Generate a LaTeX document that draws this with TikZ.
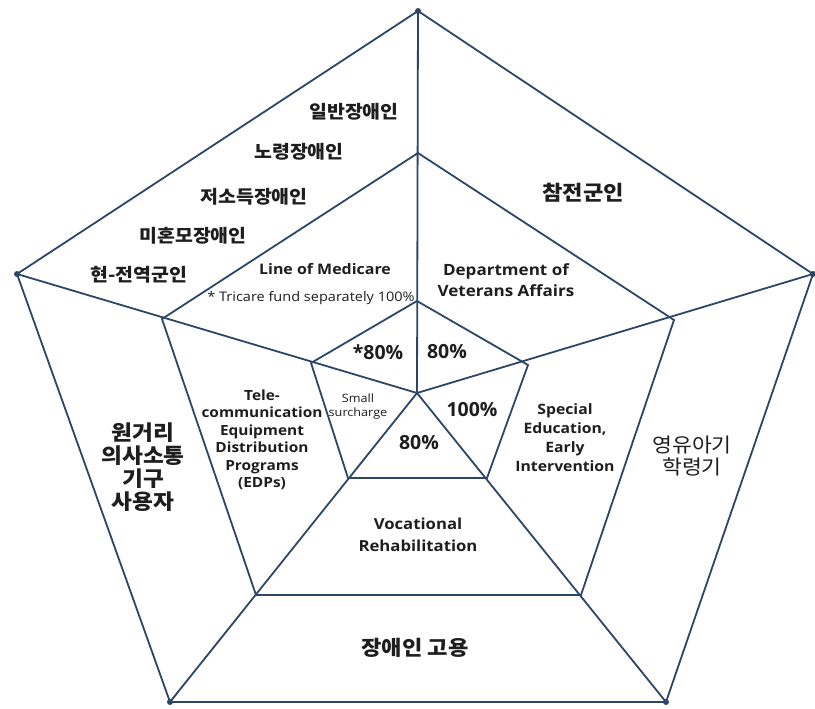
\documentclass[tikz,border=0pt]{standalone}
\usepackage{fontspec}
\newfontfamily\kr[FakeStretch=1.08]{Noto Sans CJK KR}
\newfontfamily\en[FakeStretch=1.1]{Open Sans}
\newfontfamily\enp{Open Sans}
\definecolor{lc}{RGB}{45,70,102}
\definecolor{tc}{RGB}{30,30,30}
\begin{document}
\begin{tikzpicture}[x=1pt,y=-1pt,
  edge/.style={draw=lc,line width=1.8pt},
  dotv/.style={fill=lc,draw=none},
  krl/.style={text=tc,font=\kr\bfseries\fontsize{18}{20}\selectfont,inner sep=0pt},
  enl/.style={text=tc,font=\en\bfseries\fontsize{12.5}{17.5}\selectfont,inner sep=0pt,align=center},
  pct/.style={text=tc,font=\enp\bfseries\fontsize{19.5}{21}\selectfont,inner sep=0pt}]
\useasboundingbox[fill=white] (0,0) rectangle (815,709);
% center and vertices
\coordinate (c) at (417,393);
\coordinate (o1) at (418,11);
\coordinate (o2) at (813,274);
\coordinate (o3) at (666,702);
\coordinate (o4) at (170,702);
\coordinate (o5) at (17,274);
\coordinate (m1) at (418,153);
\coordinate (m2) at (674,320);
\coordinate (m3) at (581,595);
\coordinate (m4) at (256,595);
\coordinate (m5) at (162,319);
\coordinate (i1) at (417,301);
\coordinate (i2) at (528,365);
\coordinate (i3) at (487,478);
\coordinate (i4) at (348,478);
\coordinate (i5) at (311,363);
% spokes
\foreach \v in {o1,o2,o3,o4,o5} \draw[edge] (c) -- (\v);
% pentagons
\draw[edge] (o1) -- (o2) -- (o3) -- (o4) -- (o5) -- cycle;
\draw[edge] (m1) -- (m2) -- (m3) -- (m4) -- (m5) -- cycle;
\draw[edge] (i1) -- (i2) -- (i3) -- (i4) -- (i5) -- cycle;
\foreach \v in {o1,o2,o3,o4,o5} \fill[dotv] (\v) circle (3);
% outer ring labels
\node[krl] (k1) at (354,112) {일반장애인};
\node[krl] (k2) at (299,152) {노령장애인};
\node[krl] (k3) at (254,197) {저소득장애인};
\node[krl] (k4) at (193,236) {미혼모장애인};
\node[krl] (k5) at (139,275) {현-전역군인};
\node[krl,font=\kr\bfseries\fontsize{20.5}{22}\selectfont] (k6) at (583,193) {참전군인};
\node[krl,font=\kr\bfseries\fontsize{21}{23}\selectfont,align=center] (k7) at (143,467) {원거리\\의사소통\\기구\\사용자};
\node[krl,font=\kr\fontsize{20}{22}\selectfont,align=center] (k8) at (692,456) {영유아기\\학령기};
\node[krl,font=\kr\bfseries\fontsize{20.5}{22}\selectfont] (k9) at (415,648) {장애인 고용};
% middle ring labels
\node[enl,font=\en\bfseries\fontsize{14.5}{17}\selectfont] (e1) at (325,269) {Line of Medicare};
\node[enl,font=\en\fontsize{13.2}{15}\selectfont] (e2) at (311,298) {* Tricare fund separately 100\%};
\node[enl,font=\en\bfseries\fontsize{15.5}{21}\selectfont] (e3) at (506,280) {Department of\\Veterans Affairs};
\node[enl,font=\en\bfseries\fontsize{14}{17.5}\selectfont] (e4) at (262,440) {Tele-\\communication\\Equipment\\Distribution\\Programs\\(EDPs)};
\node[enl,font=\en\bfseries\fontsize{14.3}{19}\selectfont] (e5) at (565,438) {Special\\Education,\\Early\\Intervention};
\node[enl,font=\en\bfseries\fontsize{15.2}{22}\selectfont] (e6) at (418,535) {Vocational\\Rehabilitation};
% inner labels
\node[pct] (p1) at (378,352) {*80\%};
\node[pct] (p2) at (447,352) {80\%};
\node[pct] (p3) at (472,410) {100\%};
\node[pct] (p4) at (419,443) {80\%};
\node[enl,font=\en\fontsize{11.5}{14}\selectfont] (p5) at (358,407) {Small\\surcharge};
\end{tikzpicture}
\end{document}
